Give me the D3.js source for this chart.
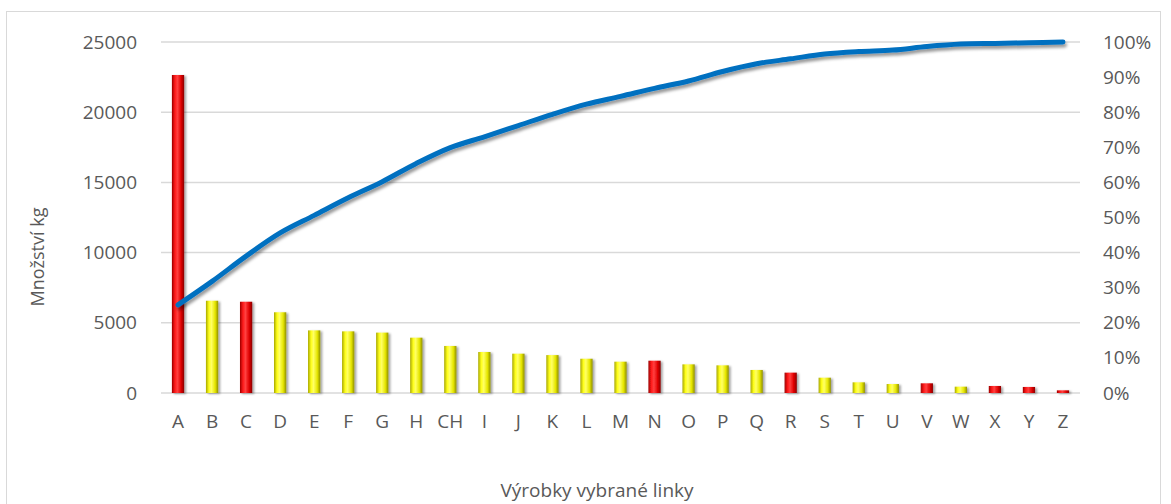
<!DOCTYPE html>
<html>
<head>
<meta charset="utf-8">
<script src="https://cdn.jsdelivr.net/npm/d3@7"></script>
<style>
  html, body { margin: 0; padding: 0; background: #ffffff; }
  svg { display: block; }
  text { font-family: "Open Sans", "Noto Sans", sans-serif; fill: #595959; }
</style>
</head>
<body>
<svg id="chart" width="1171" height="504"></svg>
<script>
// Products of the selected line
const categories = ["A","B","C","D","E","F","G","H","CH","I","J","K","L","M","N","O","P","Q","R","S","T","U","V","W","X","Y","Z"];
// Quantity per product, kg
const quantities = [22650,6570,6500,5750,4460,4390,4300,3940,3350,2920,2800,2700,2440,2230,2300,2040,1970,1640,1450,1090,760,640,690,450,500,430,190];
// Bar colour group per product
const groups = ["red","yellow","red","yellow","yellow","yellow","yellow","yellow","yellow","yellow","yellow","yellow","yellow","yellow","red","yellow","yellow","yellow","red","yellow","yellow","yellow","red","yellow","red","red","red"];
// Cumulative share, %
const cumulative = [25.1,31.8,39.0,45.6,50.6,55.6,60.2,65.4,69.9,73.0,76.2,79.4,82.3,84.5,86.8,88.9,91.6,93.8,95.2,96.6,97.3,97.7,98.7,99.4,99.6,99.8,100];
// Axis ticks
const leftTicks = [0,5000,10000,15000,20000,25000];
const rightTicks = [0,10,20,30,40,50,60,70,80,90,100];

const svg = d3.select("#chart");
const plot = { left: 161, right: 1080, top: 42, bottom: 393 };

// Chart frame
svg.append("rect")
  .attr("x", 6.5).attr("y", 11.5)
  .attr("width", 1154).attr("height", 520)
  .attr("fill", "#ffffff").attr("stroke", "#d9d9d9").attr("stroke-width", 1);

const defs = svg.append("defs");
const barFill = {
  red: ["#9c0000", "#ff1a1a", "#ff4040", "#e00000", "#8a0000"],
  yellow: ["#a8a800", "#ffff1a", "#ffff66", "#e6e600", "#8f8f00"]
};
Object.entries(barFill).forEach(([key, stops]) => {
  const g = defs.append("linearGradient").attr("id", "grad-" + key)
    .attr("x1", "0").attr("x2", "1").attr("y1", "0").attr("y2", "0");
  [0, 0.25, 0.45, 0.75, 1].forEach((o, i) =>
    g.append("stop").attr("offset", o).attr("stop-color", stops[i]));
});
const barShadow = defs.append("filter").attr("id", "barShadow")
  .attr("x", "-50%").attr("y", "-10%").attr("width", "200%").attr("height", "120%");
barShadow.append("feDropShadow").attr("dx", 2).attr("dy", 1).attr("stdDeviation", 1.2)
  .attr("flood-color", "#000").attr("flood-opacity", 0.35);
const lineShadow = defs.append("filter").attr("id", "lineShadow")
  .attr("x", "-5%").attr("y", "-20%").attr("width", "110%").attr("height", "140%");
lineShadow.append("feDropShadow").attr("dx", 1.5).attr("dy", 3).attr("stdDeviation", 1.6)
  .attr("flood-color", "#000").attr("flood-opacity", 0.4);

const x = d3.scaleBand().domain(categories).range([plot.left, plot.right]).padding(0);
const y = d3.scaleLinear().domain([0, 25000]).range([plot.bottom, plot.top]);
const yPct = d3.scaleLinear().domain([0, 100]).range([plot.bottom, plot.top]);

// Gridlines
svg.append("g")
  .selectAll("line").data(leftTicks).join("line")
  .attr("x1", plot.left).attr("x2", plot.right)
  .attr("y1", d => y(d)).attr("y2", d => y(d))
  .attr("stroke", "#d9d9d9").attr("stroke-width", 1.5);

// Left axis
const leftAxis = svg.append("g")
  .attr("transform", `translate(${plot.left},0)`)
  .call(d3.axisLeft(y).tickValues(leftTicks).tickSize(0).tickPadding(24).tickFormat(d3.format("d")));
leftAxis.select(".domain").remove();
leftAxis.selectAll("text").style("font-size", "19px").attr("fill", "#595959");

// Right axis
const rightAxis = svg.append("g")
  .attr("transform", `translate(${plot.right},0)`)
  .call(d3.axisRight(yPct).tickValues(rightTicks).tickSize(0).tickPadding(23).tickFormat(d => d + "%"));
rightAxis.select(".domain").remove();
rightAxis.selectAll("text").style("font-size", "19px").attr("fill", "#595959");

// Bottom axis
const bottomAxis = svg.append("g")
  .attr("transform", `translate(0,${plot.bottom})`)
  .call(d3.axisBottom(x).tickSize(0).tickPadding(22));
bottomAxis.select(".domain").remove();
bottomAxis.selectAll("text").style("font-size", "19px").attr("fill", "#595959");

// Bars
const barW = x.bandwidth() * 0.36;
svg.append("g").attr("filter", "url(#barShadow)")
  .selectAll("rect").data(categories).join("rect")
  .attr("x", d => x(d) + x.bandwidth() / 2 - barW / 2)
  .attr("width", barW)
  .attr("y", (d, i) => y(quantities[i]))
  .attr("height", (d, i) => y(0) - y(quantities[i]))
  .attr("fill", (d, i) => `url(#grad-${groups[i]})`);

// Cumulative line
const line = d3.line()
  .x((d, i) => x(categories[i]) + x.bandwidth() / 2)
  .y(d => yPct(d))
  .curve(d3.curveCatmullRom.alpha(0.5));
svg.append("path")
  .datum(cumulative)
  .attr("d", line)
  .attr("fill", "none")
  .attr("stroke", "#0070c0")
  .attr("stroke-width", 5)
  .attr("stroke-linecap", "round")
  .attr("stroke-linejoin", "round")
  .attr("filter", "url(#lineShadow)");

// Axis titles
svg.append("text")
  .attr("x", 597).attr("y", 497)
  .attr("text-anchor", "middle")
  .style("font-size", "19px")
  .text("Výrobky vybrané linky");

svg.append("text")
  .attr("transform", "translate(44,257) rotate(-90)")
  .attr("text-anchor", "middle")
  .style("font-size", "18px")
  .attr("fill", "#404040")
  .text("Množství kg");
</script>
</body>
</html>
